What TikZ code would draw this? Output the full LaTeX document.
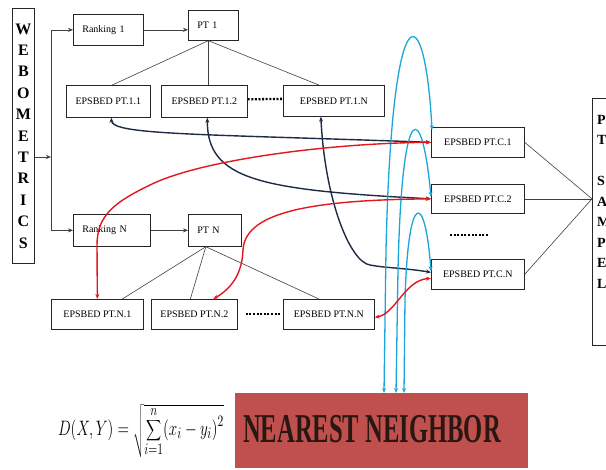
\documentclass[tikz,border=0pt]{standalone}
\usepackage{fontspec}
\setmainfont{Liberation Serif}
\usepackage{graphicx}
\usetikzlibrary{arrows.meta}
\definecolor{navy}{HTML}{1E2B45}
\definecolor{ared}{HTML}{E3171E}
\definecolor{acyan}{HTML}{1BA6DB}
\definecolor{boxred}{HTML}{C0504D}
\definecolor{nntext}{HTML}{2B1712}
\tikzset{
  bx/.style={draw=black!85, line width=0.7pt, inner sep=0pt, anchor=north west,
    font=\fontsize{10}{12}\selectfont},
  lbx/.style={bx, align=left, inner xsep=9pt},
  thinline/.style={draw=black!75, line width=0.6pt},
  thinarr/.style={thinline, -{Stealth[length=5pt,width=4pt]}},
  dotsep/.style={draw=black, line width=2.3pt, dash pattern=on 2pt off 1.6pt},
  navyarr/.style={draw=navy, line width=1.4pt, {Stealth[length=5pt,width=4pt]}-{Stealth[length=5pt,width=4pt]}},
  redarr/.style={draw=ared, line width=1.4pt, {Stealth[length=5pt,width=4pt]}-{Stealth[length=5pt,width=4pt]}},
  cyanarr/.style={draw=acyan, line width=1.3pt, {Stealth[length=5pt,width=4pt]}-{Stealth[length=5pt,width=4pt]}},
}
\begin{document}
\begin{tikzpicture}[x=1pt,y=-1pt]
\useasboundingbox (0,0) rectangle (606,470);
\fill[white] (0,0) rectangle (606,470);
\begin{scope}
\clip (0,0) rectangle (606,470);

% boxes
\node[bx, minimum width=22pt, minimum height=255pt, align=center,
  font=\bfseries\fontsize{16}{21.4}\selectfont] (web) at (12,8) {W\\E\\B\\O\\M\\E\\T\\R\\I\\C\\S};
\node[lbx, text width=52pt, minimum height=31pt] (rank1) at (73,14) {Ranking 1};
\node[lbx, text width=32pt, minimum height=30pt] (pt1) at (188,10) {PT 1};
\node[bx, minimum width=84pt, minimum height=32pt] (e11) at (66,85) {EPSBED PT.1.1};
\node[bx, minimum width=86pt, minimum height=32pt] (e12) at (161,85) {EPSBED PT.1.2};
\node[bx, minimum width=101pt, minimum height=31pt] (e1n) at (283,85) {EPSBED PT.1.N};

\node[bx, minimum width=93pt, minimum height=30pt] (c1) at (431,127) {EPSBED PT.C.1};
\node[bx, minimum width=93pt, minimum height=29pt] (c2) at (431,184) {EPSBED PT.C.2};
\node[bx, minimum width=93pt, minimum height=30pt] (cn) at (431,259) {EPSBED PT.C.N};

\node[lbx, text width=59pt, minimum height=32pt] (rankn) at (73,214) {Ranking N};
\node[lbx, text width=35pt, minimum height=32pt] (ptn) at (188,214) {PT N};
\node[bx, minimum width=92pt, minimum height=30pt] (n1) at (51,299) {EPSBED PT.N.1};
\node[bx, minimum width=86pt, minimum height=30pt] (n2) at (151,299) {EPSBED PT.N.2};
\node[bx, minimum width=91pt, minimum height=30pt] (nn) at (283,299) {EPSBED PT.N.N};

\node[bx, minimum width=30pt, minimum height=247pt] (sampel) at (592,98) {};
\node[anchor=north west, inner sep=0pt, align=left,
  font=\bfseries\fontsize{14}{20.5}\selectfont] (sampeltext) at (597,115) {P\\T\\[20.5pt]S\\A\\M\\P\\E\\L};

\node[fill=boxred, minimum width=293pt, minimum height=75pt, anchor=north west, inner sep=0pt] (nearest) at (235,393) {};
\node[anchor=west, inner sep=0pt, text=nntext] (nearesttext) at ([xshift=8pt,yshift=2pt]nearest.west)
  {\scalebox{0.6}[1]{\fontsize{41}{41}\selectfont\bfseries NEAREST NEIGHBOR}};

\node (formula) at (141,431) {\scalebox{1.05}[1.45]{\fontsize{15.5}{18}\selectfont $D(X,Y)=\sqrt{\displaystyle\sum_{i=1}^{n}(x_i-y_i)^2}$}};

% left connectors
\coordinate (sp) at (51,157);
\draw[thinarr] (web.east |- sp) -- (sp);
\draw[thinarr] (sp) |- (rank1.west);
\draw[thinarr] (sp) |- (rankn.west);
\draw[thinarr] (rank1.east) -- (pt1.west |- rank1.east);
\draw[thinarr] (rankn.east) -- (ptn.west |- rankn.east);

% tree lines
\draw[thinline] ([xshift=-5pt]pt1.south) -- ([xshift=4pt]e11.north);
\draw[thinline] ([xshift=-5pt]pt1.south) -- ([xshift=4pt]e12.north);
\draw[thinline] ([xshift=-5pt]pt1.south) -- ([xshift=-15pt]e1n.north);
\draw[thinline] ([xshift=-9pt]ptn.south) -- ([xshift=25pt]n1.north);
\draw[thinline] ([xshift=-9pt]ptn.south) -- ([xshift=-4pt]n2.north);
\draw[thinline] ([xshift=-9pt]ptn.south) -- ([xshift=-10pt]nn.north);

% right lines
\draw[thinline] (c1.east) -- (sampel.west |- c2.east);
\draw[thinline] (c2.east) -- (sampel.west |- c2.east);
\draw[thinline] (cn.east) -- (sampel.west |- c2.east);

% dotted separators
\draw[dotsep] ([yshift=2pt]e12.east) -- ([yshift=2pt]e1n.west);
\draw[dotsep] (450,235) -- (488,235);
\draw[dotsep, shorten <=8pt, shorten >=3pt] (n2.east) -- (nn.west);

% navy arrows
\draw[navyarr] (c1.west) .. controls (200,134) and (112,135) .. ([xshift=3pt]e11.south);
\draw[navyarr] (c2.west) .. controls (260,190) and (207,180) .. ([xshift=3pt]e12.south);
\draw[navyarr] ([yshift=2pt]cn.west) .. controls (405,268) and (385,268) .. (370,265)
   .. controls (350,262) and (325,200) .. ([xshift=-13pt]e1n.south);

% cyan arrows
\draw[cyanarr] ([xshift=149pt]nearest.north west) -- (386,250)
   .. controls (392,-15) and (425,-5) .. ([xshift=1pt,yshift=-3pt]c1.north west);
\draw[cyanarr] ([xshift=161pt]nearest.north west) -- (398,270)
   .. controls (402,95) and (422,100) .. ([yshift=2pt]c2.west);
\draw[cyanarr] ([xshift=169pt]nearest.north west) -- (405,300)
   .. controls (408,190) and (425,190) .. ([yshift=3pt]cn.west);

% red arrows
\draw[redarr] (c1.west) .. controls (330,143) and (200,160) .. (150,185)
   .. controls (115,202) and (97,215) .. (97,245) -- (n1.north);
\draw[redarr] (c2.west) .. controls (300,200) and (245,215) .. (243,250)
   .. controls (242,280) and (225,292) .. ([xshift=19pt]n2.north);
\draw[redarr] ([yshift=-4pt]cn.west) .. controls (405,280) and (395,314) .. ([yshift=-3pt]nn.east);
\end{scope}
\end{tikzpicture}
\end{document}
